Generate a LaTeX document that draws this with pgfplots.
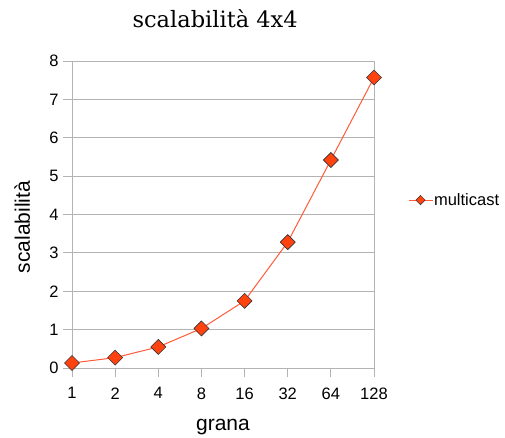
\documentclass[border=0pt]{standalone}
\usepackage{fontspec}
\setmainfont{Liberation Sans}
\newfontfamily\titlefont{DejaVu Serif}
\usepackage{pgfplots}
\pgfplotsset{compat=1.18}
\definecolor{mfill}{HTML}{FF420E}
\definecolor{mline}{HTML}{FF5A3A}
\definecolor{gridc}{HTML}{B3B3B3}
\begin{document}
\begin{tikzpicture}
\path[use as bounding box] (-72pt,-69pt) rectangle (433pt,368pt);
\begin{axis}[
  anchor=south west, at={(0pt,0pt)},
  scale only axis, width=302pt, height=307pt,
  xmin=0, xmax=7, ymin=0, ymax=8,
  xtick={0,1,2,3,4,5,6,7},
  xticklabels={1,2,4,8,16,32,64,128},
  ytick={0,1,2,3,4,5,6,7,8},
  xtick pos=bottom, ytick pos=left,
  tick align=outside, major tick length=9pt,
  tick style={gridc, line width=1pt},
  axis line style={gridc, line width=1pt},
  ymajorgrids, grid style={gridc, line width=1pt},
  /pgf/number format/assume math mode=true,
  tick label style={font=\fontsize{16.5}{19}\selectfont},
  yticklabel style={xshift=-1pt},
  xticklabel style={yshift=-7pt},
  label style={font=\fontsize{21}{24}\selectfont},
  xlabel={grana},
  xlabel style={at={(0.5,0)}, anchor=base, yshift=-62pt},
  ylabel={scalabilità},
  ylabel style={at={(0,0.459)}, anchor=base, yshift=42pt},
  title={\titlefont scalabilità 4x4},
  title style={at={(0.474,1)}, anchor=base, yshift=28pt, font=\fontsize{22.5}{26}\selectfont},
  legend style={at={(1.112,0.547)}, anchor=west, draw=none, fill=none,
    font=\fontsize{16.5}{19}\selectfont, inner sep=0pt,
    nodes={inner sep=1pt}},
  legend cell align=left,
  legend image code/.code={
    \draw[mline, line width=1pt] (0pt,0pt) -- (24pt,0pt);
    \draw[mark=square*, mark size=3.3pt, mark options={rotate=45, fill=mfill, draw=black!80, line width=0.5pt}] plot coordinates {(12pt,0pt)};
  },
  clip=false,
]
\addplot[mline, line width=1pt, mark=square*, mark size=5.3pt,
  mark options={rotate=45, fill=mfill, draw=black!80, line width=0.6pt}]
  coordinates {(0,0.13) (1,0.27) (2,0.55) (3,1.03) (4,1.75) (5,3.28) (6,5.42) (7,7.57)};
\addlegendentry{multicast}
\end{axis}
\end{tikzpicture}
\end{document}
